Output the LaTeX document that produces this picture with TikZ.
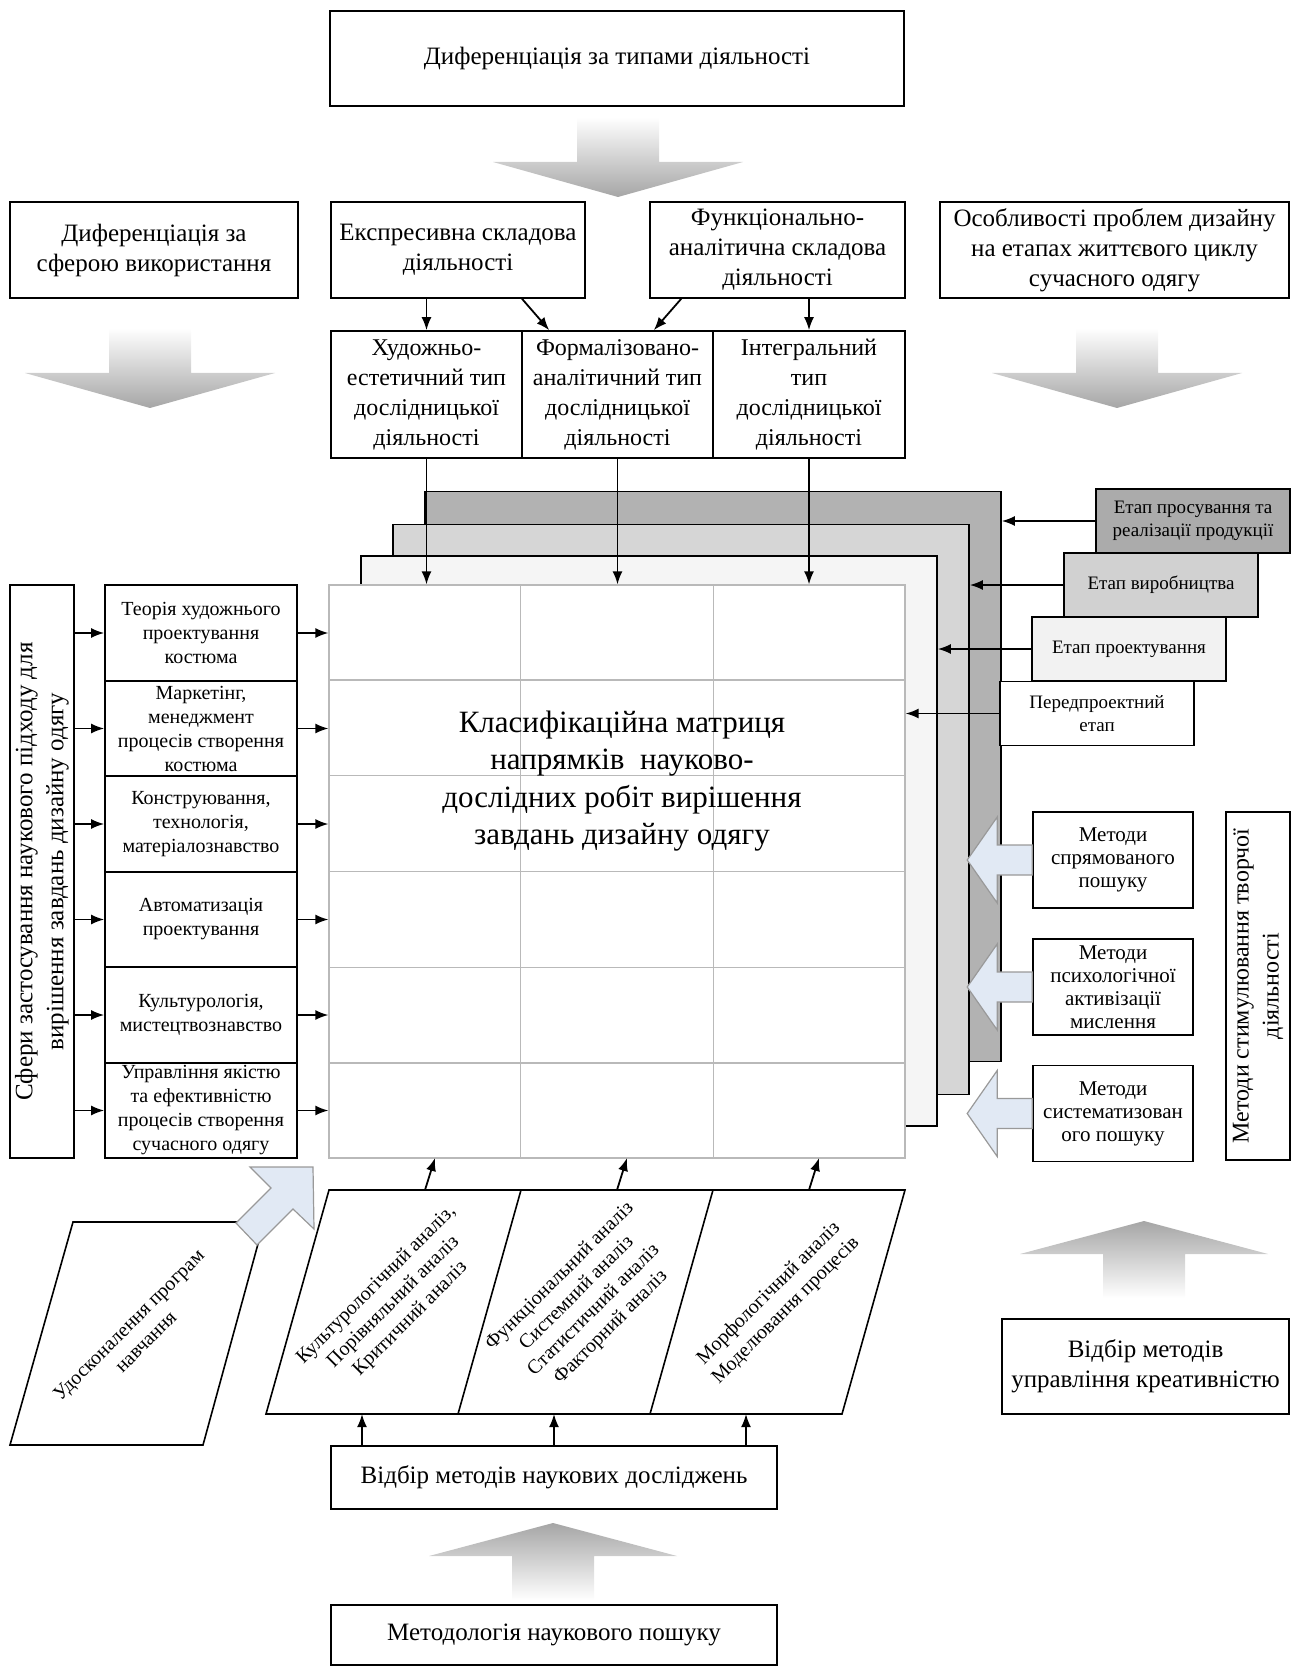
\documentclass[tikz,border=0pt]{standalone}
\usepackage{fontspec}
\setmainfont{Liberation Serif}
\usetikzlibrary{arrows.meta,calc}
\definecolor{arrowblue}{RGB}{225,233,244}
\tikzset{
  box/.style={draw, line width=0.8pt, fill=white, align=center, inner sep=0pt},
  bigfont/.style={font=\fontsize{12.5}{15}\selectfont},
  smallfont/.style={font=\fontsize{10}{12}\selectfont},
  arr/.style={->, line width=0.9pt},
  gridline/.style={draw=gray!55, line width=0.6pt},
  layer/.style={draw, line width=0.8pt, minimum width=288pt, minimum height=285pt},
  stage/.style={box, font=\fontsize{9.5}{11.5}\selectfont, minimum width=97pt, minimum height=32pt},
  topic/.style={box, smallfont, minimum width=96pt, minimum height=47.75pt},
  method/.style={box, font=\fontsize{10.5}{11.5}\selectfont, minimum width=80pt, minimum height=48pt},
  blockarrow/.style={draw=gray!80, line width=0.6pt, fill=arrowblue},
  downshade/.style={top color=white, bottom color=gray!70},
  upshade/.style={top color=gray!70, bottom color=white},
}

\begin{document}
\begin{tikzpicture}[x=0.5pt, y=-0.5pt, >={Latex[length=6.5pt,width=5pt]}]
\useasboundingbox (0,0) rectangle (1292,1668);

% top part
\node[box, bigfont, minimum width=287pt, minimum height=47.5pt] (dtype) at (617,58.5) {Диференціація за типами діяльності};
\foreach \cx/\ty in {618/117, 150/328, 1117/328}
  \shade[downshade] ({\cx-41},\ty) -- ({\cx+41},\ty) -- ({\cx+41},\ty+45) -- ({\cx+125},\ty+45) -- (\cx,\ty+80) -- ({\cx-125},\ty+45) -- ({\cx-41},\ty+45) -- cycle;

\node[box, bigfont, minimum width=144pt, minimum height=48pt] (dsphere) at (154,250) {Диференціація за\\сферою використання};
\node[box, bigfont, minimum width=127pt, minimum height=48pt] (expr) at (458,250) {Експресивна складова\\діяльності};
\node[box, bigfont, minimum width=127.5pt, minimum height=48pt] (func) at (777.5,250) {Функціонально-\\аналітична складова\\діяльності};
\node[box, bigfont, minimum width=174.5pt, minimum height=48pt] (feat) at (1114.5,250) {Особливості проблем дизайну\\на етапах життєвого циклу\\сучасного одягу};

\node[box, font=\fontsize{12}{15}\selectfont, minimum width=95.5pt, minimum height=63.5pt] (art) at (426.5,394.5) {Художньо-\\естетичний тип\\дослідницької\\діяльності};
\node[box, font=\fontsize{12}{15}\selectfont, minimum width=95.5pt, minimum height=63.5pt] (form) at (617.5,394.5) {Формалізовано-\\аналітичний тип\\дослідницької\\діяльності};
\node[box, font=\fontsize{12}{15}\selectfont, minimum width=96pt, minimum height=63.5pt] (integ) at (809,394.5) {Інтегральний\\тип\\дослідницької\\діяльності};

\draw[arr] (expr.south -| art.north) -- (art.north);
\draw[arr] ($(expr.south)+(64,0)$) -- ($(form.north west)+(28,0)$);
\draw[arr] ($(func.south west)+(32,0)$) -- ($(form.north east)+(-60,0)$);
\draw[arr] (func.south -| integ.north) -- (integ.north);

% matrix with stage layers
\node[layer, fill=gray!60] (layD) at (713,776.5) {};
\node[layer, fill=gray!32] (layM) at (681,809.5) {};
\node[layer, fill=gray!8] (layL) at (649,841) {};
\node[gridline, fill=white, minimum width=288pt, minimum height=286.5pt] (mat) at (617,871.5) {};
\foreach \x in {1,2}
  \draw[gridline] ($(mat.north west)!\x/3!(mat.north east)$) -- ($(mat.south west)!\x/3!(mat.south east)$);
\foreach \y in {1,...,5}
  \draw[gridline] ($(mat.north west)!\y/6!(mat.south west)$) -- ($(mat.north east)!\y/6!(mat.south east)$);
\node[font=\fontsize{15.5}{18.8}\selectfont, align=center] (mtxt) at (622,781) {Класифікаційна матриця\\напрямків\ \ науково-\\дослідних робіт вирішення\\завдань дизайну одягу};

\foreach \n in {art,form,integ}
  \draw[arr] (\n.south) -- (\n.south |- mat.north);

% stages
\node[stage, fill=gray!66] (st4) at (1193,521) {Етап просування та\\реалізації продукції};
\node[stage, fill=gray!36] (st3) at (1161,585) {Етап виробництва};
\node[stage, fill=gray!10] (st2) at (1129,649) {Етап проектування};
\node[stage] (st1) at (1097,713.5) {Передпроектний\\етап};
\draw[arr] (st4.west) -- (st4.west -| layD.east);
\draw[arr] (st3.west) -- (st3.west -| layM.east);
\draw[arr] (st2.west) -- (st2.west -| layL.east);
\draw[arr] (st1.west) -- (st1.west -| mat.east);

% creativity methods
\node[method] (m1) at (1113,860) {Методи\\спрямованого\\пошуку};
\node[method] (m2) at (1113,987) {Методи\\психологічної\\активізації\\мислення};
\node[method] (m3) at (1113,1113.5) {Методи\\систематизован\\ого пошуку};
\foreach \m in {m1,m2,m3}
  \draw[blockarrow] ($(\m.west)+(0,-15)$) -- ++(-35,0) -- ++(0,-28) -- ++(-30,43) -- ++(30,43) -- ++(0,-28) -- ++(35,0) -- cycle;
\node[box, minimum width=32pt, minimum height=174pt] (mstim) at (1258,986) {};
\node[font=\fontsize{12}{15}\selectfont, rotate=90, align=center] (mstimtxt) at (mstim.center) {Методи стимулювання творчої\\діяльності};

% left side
\node[box, minimum width=32pt, minimum height=286.5pt] (sfera) at (42,871.5) {};
\node[font=\fontsize{12.5}{15.5}\selectfont, rotate=90, align=center] (sferatxt) at (sfera.center) {Сфери застосування наукового підходу для\\вирішення завдань дизайну одягу};

\node[topic] (t1) at (201,633) {Теорія художнього\\проектування\\костюма};
\node[topic] (t2) at (201,728.5) {Маркетінг,\\менеджмент\\процесів створення\\костюма};
\node[topic] (t3) at (201,824) {Конструювання,\\технологія,\\матеріалознавство};
\node[topic] (t4) at (201,919.5) {Автоматизація\\проектування};
\node[topic] (t5) at (201,1015) {Культурологія,\\мистецтвознавство};
\node[topic] (t6) at (201,1110.5) {Управління якістю\\та ефективністю\\процесів створення\\сучасного одягу};
\foreach \i in {1,...,6} {
  \draw[arr] (sfera.east |- t\i.west) -- (t\i.west);
  \draw[arr] (t\i.east) -- (t\i.east -| mat.west);
}

% research methods
\coordinate (aTL) at (329,1190);
\coordinate (aTR) at (905,1190);
\coordinate (aBR) at (842,1414);
\coordinate (aBL) at (266,1414);
\coordinate (amid) at ($(aTL)!.5!(aBL)$);
\draw[line width=0.8pt] (aTL) -- (aTR) -- (aBR) -- (aBL) -- cycle;
\foreach \f in {1,2}
  \draw[line width=0.8pt] ($(aTL)!\f/3!(aTR)$) -- ($(aBL)!\f/3!(aBR)$);
\node[rotate=45, smallfont, align=center] (an1) at ($(amid)+(96,0)$) {Культурологічний аналіз,\\Порівняльний аналіз\\Критичний аналіз};
\node[rotate=45, smallfont, align=center] (an2) at ($(amid)+(288,0)$) {Функціональний аналіз\\Системний аналіз\\Статистичний аналіз\\Факторний аналіз};
\node[rotate=45, smallfont, align=center] (an3) at ($(amid)+(480,0)$) {Морфологічний аналіз\\Моделювання процесів};
\foreach \f in {1,3,5}
  \draw[arr] ($(aTL)!\f/6!(aTR)$) -- ++(10,-32);

\node[box, bigfont, minimum width=223pt, minimum height=31.5pt] (vmeth) at (554,1477.5) {Відбір методів наукових досліджень};
\foreach \f in {1,3,5} {
  \coordinate (b\f) at ($(aBL)!\f/6!(aBR)$);
  \draw[arr] (b\f |- vmeth.north) -- (b\f);
}

\foreach \cx/\by in {553/1600, 1144/1298}
  \shade[upshade] ({\cx-41},\by) -- ({\cx+41},\by) -- ({\cx+41},\by-44) -- ({\cx+124},\by-44) -- (\cx,\by-77) -- ({\cx-124},\by-44) -- ({\cx-41},\by-44) -- cycle;
\node[box, bigfont, minimum width=223pt, minimum height=30pt] (metod) at (554,1635) {Методологія наукового пошуку};
\node[box, bigfont, minimum width=143.5pt, minimum height=47.5pt] (vcre) at (1145.5,1366.5) {Відбір методів\\управління креативністю};

% teaching programmes
\draw[line width=0.8pt] (73,1222) -- (264,1222) -- (203,1445) -- (10,1445) -- cycle;
\node[rotate=45, smallfont, align=center] (udostxt) at (137,1333) {Удосконалення програм\\навчання};
\draw[blockarrow] (250,1167) -- (313,1167) -- (314,1229) -- (293,1209) -- (257,1245) -- (236,1223) -- (271,1188) -- cycle;
\end{tikzpicture}
\end{document}
